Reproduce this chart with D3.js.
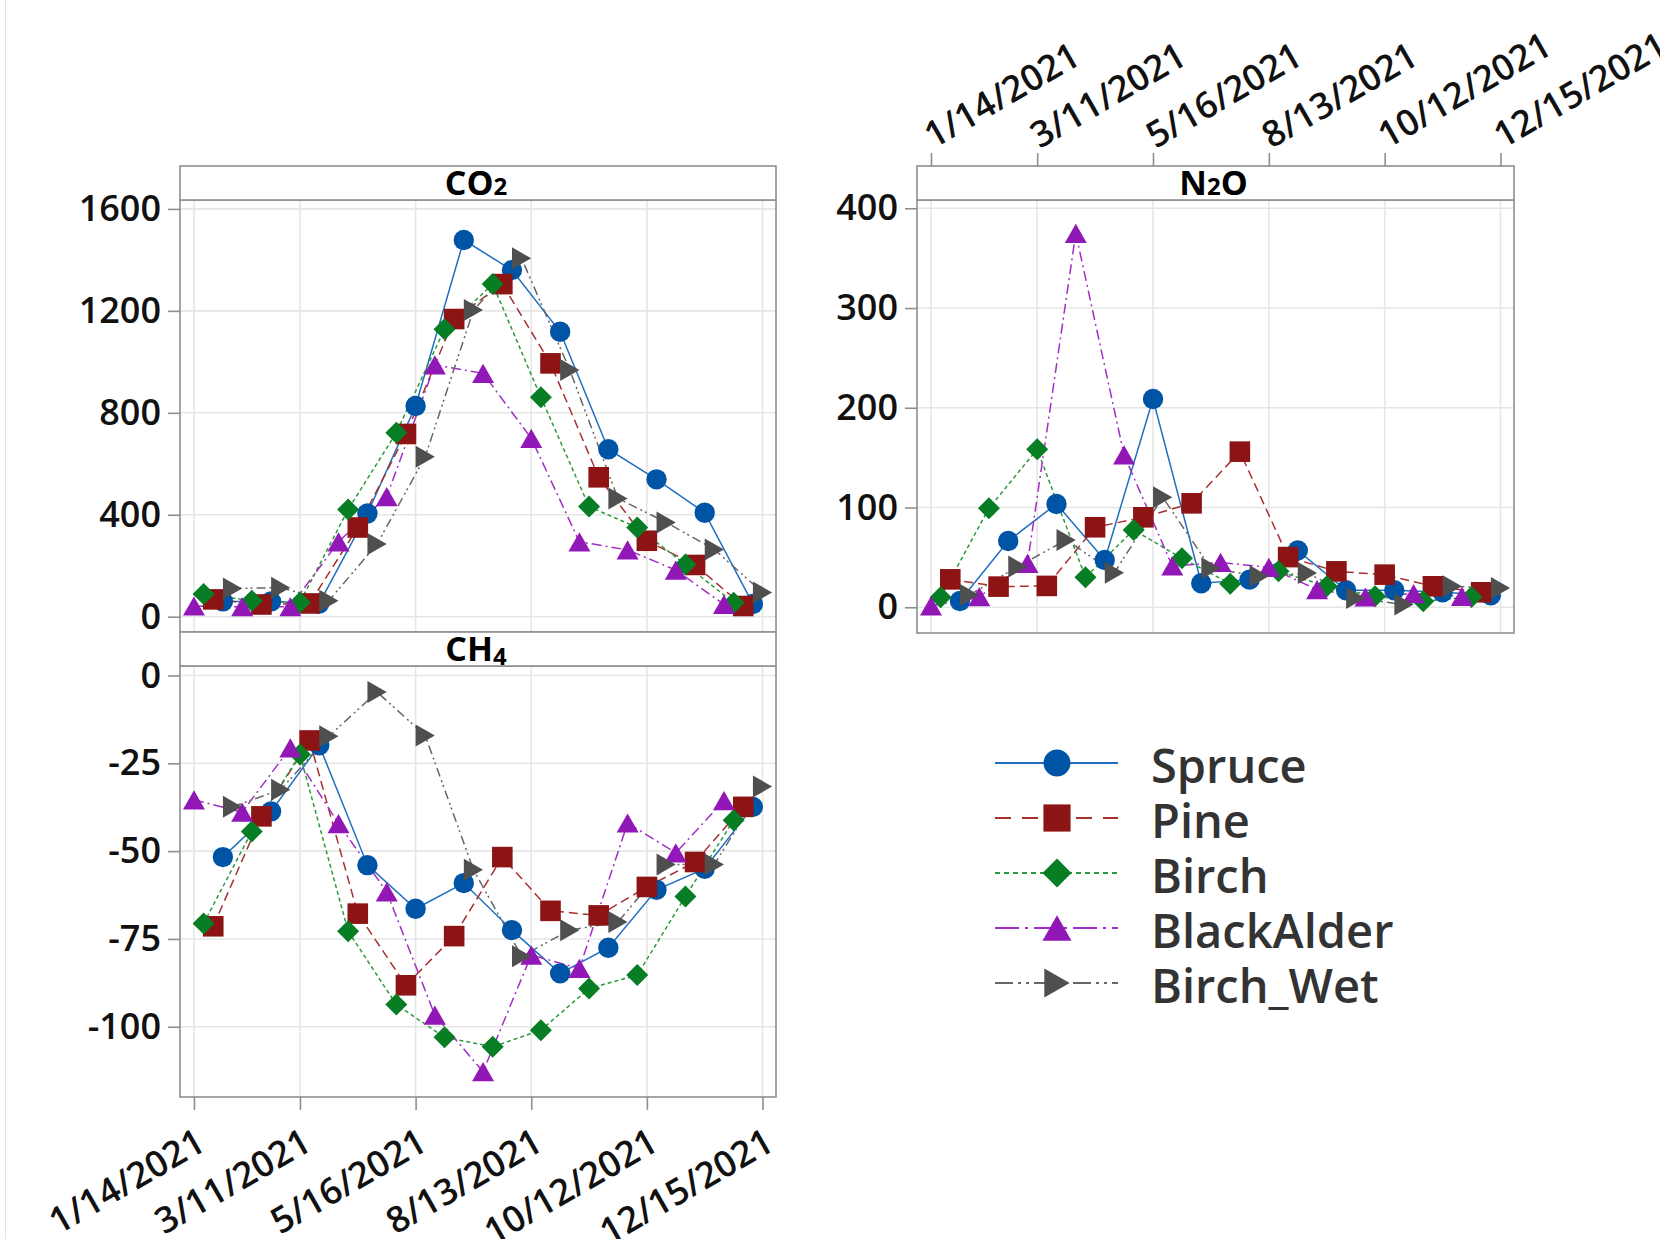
<!DOCTYPE html>
<html>
<head>
<meta charset="utf-8">
<script src="https://cdn.jsdelivr.net/npm/d3@7"></script>
<style>
  body { margin: 0; background: #fff; }
  svg { display: block; }
</style>
</head>
<body>
<div id="chart"></div>
<script>
// ---------------- data ----------------
const speciesNames = ['Spruce', 'Pine', 'Birch', 'BlackAlder', 'Birch_Wet'];
// left-to-right order of the species inside one sampling round
const dodgeOrder = ['BlackAlder', 'Birch', 'Pine', 'Spruce', 'Birch_Wet'];

// tick positions are sample slots on the (discrete) date axis
const dateTickSlots = [0, 11, 23, 35, 47, 59];
const dateTickLabels = ['1/14/2021', '3/11/2021', '5/16/2021', '8/13/2021', '10/12/2021', '12/15/2021'];

const co2Ticks = [0, 400, 800, 1200, 1600];
const ch4Ticks = [0, -25, -50, -75, -100];
const n2oTicks = [0, 100, 200, 300, 400];

// CO2 per sampling round
const co2Spruce     = [60, 60, 52, 405, 827, 1478, 1360, 1118, 657, 539, 408, 50];
const co2Pine       = [68, 48, 52, 350, 717, 1168, 1305, 994, 547, 298, 203, 42];
const co2Birch      = [89, 63, 56, 421, 722, 1128, 1305, 861, 432, 350, 205, 55];
const co2BlackAlder = [42, 39, 39, 294, 471, 988, 955, 700, 294, 262, 183, 48];
const co2BirchWet   = [111, 114, 63, 285, 628, 1203, 1406, 968, 464, 370, 264, 95];

// CH4 per sampling round
const ch4Spruce     = [-51.7, -38.7, -19.9, -54.0, -66.4, -59.1, -72.5, -84.8, -77.5, -61.0, -55.0, -37.4];
const ch4Pine       = [-71.4, -40.1, -18.5, -67.8, -88.2, -74.2, -51.7, -67.0, -68.3, -60.2, -53.1, -37.4];
const ch4Birch      = [-70.6, -44.4, -22.5, -72.8, -93.7, -103.0, -105.7, -101.0, -89.1, -85.3, -62.9, -41.2];
const ch4BlackAlder = [-35.4, -38.9, -20.6, -42.2, -61.6, -96.7, -112.8, -79.6, -83.4, -42.0, -50.5, -35.6];
const ch4BirchWet   = [-37.4, -32.5, -17.3, -4.7, -17.1, -55.3, -79.9, -72.5, -70.2, -53.8, -53.8, -31.6];

// N2O per sampling round
const n2oSpruce     = [6.3, 66.5, 103.6, 47.4, 208.8, 24.1, 27.7, 57, 17, 17, 15, 12];
const n2oPine       = [28, 20.7, 21.4, 80.2, 90.2, 104.2, 156, 50.3, 36, 32.7, 21, 15];
const n2oBirch      = [10, 99.2, 158.4, 30.1, 77.5, 49.1, 23.7, 36, 21, 11, 6, 10.3];
const n2oBlackAlder = [1.3, 10.7, 44.1, 374.9, 152.7, 41.4, 45, 40, 17.7, 10.3, 13.7, 11];
const n2oBirchWet   = [12.4, 40.8, 67.5, 34.7, 110.3, 39, 31, 34.3, 9.3, 2.7, 21, 19.3];

// ---------------- styles ----------------
const FONT = '"Open Sans", "Noto Sans", "DejaVu Sans", sans-serif';
const frameColor = '#8f8f8f';
const gridColor = '#e6e6e6';

const styles = {
    Spruce:     { fill: '#0054a6', line: '#1f6ec2', dash: null,            legDash: null,              shape: 'circle' },
    Pine:       { fill: '#8c1414', line: '#a83030', dash: '9,5',           legDash: '16,11',           shape: 'square' },
    Birch:      { fill: '#077d24', line: '#2a9a3c', dash: '4,3',           legDash: '5,4',             shape: 'diamond' },
    BlackAlder: { fill: '#9117b7', line: '#a32dc4', dash: '10,4,2,4',      legDash: '24,6,3,6',        shape: 'triangle' },
    Birch_Wet:  { fill: '#4f4f4f', line: '#666666', dash: '9,4,2,3,2,4',   legDash: '18,5,3,5,3,5',    shape: 'triangleRight' }
};

// marker outline, k = scale factor
function shapePath(shape, k) {
    const s = k || 1;
    switch (shape) {
        case 'circle': {
            const r = 10.2 * s;
            return `M${-r},0A${r},${r} 0 1,0 ${r},0A${r},${r} 0 1,0 ${-r},0Z`;
        }
        case 'square': {
            const h = 10.3 * s;
            return `M${-h},${-h}H${h}V${h}H${-h}Z`;
        }
        case 'diamond': {
            const h = 11 * s;
            return `M0,${-h}L${h},0L0,${h}L${-h},0Z`;
        }
        case 'triangle': {
            const w = 11 * s, h = 9.6 * s;
            return `M0,${-h}L${w},${h}L${-w},${h}Z`;
        }
        case 'triangleRight': {
            const w = 9.6 * s, h = 11 * s;
            return `M${-w},${-h}L${w},0L${-w},${h}Z`;
        }
    }
}

// ---------------- build tables ----------------
const gasTables = {
    CO2: { Spruce: co2Spruce, Pine: co2Pine, Birch: co2Birch, BlackAlder: co2BlackAlder, Birch_Wet: co2BirchWet },
    CH4: { Spruce: ch4Spruce, Pine: ch4Pine, Birch: ch4Birch, BlackAlder: ch4BlackAlder, Birch_Wet: ch4BirchWet },
    N2O: { Spruce: n2oSpruce, Pine: n2oPine, Birch: n2oBirch, BlackAlder: n2oBlackAlder, Birch_Wet: n2oBirchWet }
};

function seriesFor(gas, name) {
    const d = dodgeOrder.indexOf(name);
    return gasTables[gas][name].map((v, i) => ({ slot: i * dodgeOrder.length + d, value: v }));
}

// ---------------- layout ----------------
const W = 1660, H = 1239;
const tickFont = 36;

const panels = [
    { gas: 'CO2', label: ['CO', '2', ''], sub: 0, x0: 180, x1: 776, stripTop: 166, top: 200, bottom: 632,
      yDomain: [-60, 1635], yTicks: co2Ticks, xAxis: null },
    { gas: 'CH4', label: ['CH', '4', ''], sub: 4, x0: 180, x1: 776, stripTop: 632, top: 666, bottom: 1097,
      yDomain: [-120, 2.7], yTicks: ch4Ticks, xAxis: 'bottom' },
    { gas: 'N2O', label: ['N', '2', 'O'], sub: 0, x0: 917, x1: 1514, stripTop: 166, top: 200, bottom: 633,
      yDomain: [-25.8, 408.3], yTicks: n2oTicks, xAxis: 'top' }
];

const svg = d3.select('#chart')
    .append('svg')
    .attr('width', W)
    .attr('height', H)
    .style('font-family', FONT);

svg.append('rect').attr('width', W).attr('height', H).attr('fill', '#fff');

// faint window edge on the left
svg.append('line')
    .attr('x1', 5.5).attr('x2', 5.5).attr('y1', 0).attr('y2', H)
    .attr('stroke', '#e4e4e4').attr('stroke-width', 1);

panels.forEach(p => {
    const x = d3.scaleLinear().domain([-1.45, 60.4]).range([p.x0, p.x1]);
    const y = d3.scaleLinear().domain(p.yDomain).range([p.bottom, p.top]);

    const g = svg.append('g').attr('class', 'panel ' + p.gas);

    // grid
    g.append('g').selectAll('line')
        .data(p.yTicks)
        .join('line')
        .attr('x1', p.x0).attr('x2', p.x1)
        .attr('y1', d => y(d)).attr('y2', d => y(d))
        .attr('stroke', gridColor).attr('stroke-width', 1.6);

    g.append('g').selectAll('line')
        .data(dateTickSlots)
        .join('line')
        .attr('x1', d => x(d)).attr('x2', d => x(d))
        .attr('y1', p.top).attr('y2', p.bottom)
        .attr('stroke', gridColor).attr('stroke-width', 1.6);

    // series lines first, markers on top
    speciesNames.forEach(name => {
        const st = styles[name];
        const line = d3.line().x(d => x(d.slot)).y(d => y(d.value));
        g.append('path')
            .datum(seriesFor(p.gas, name))
            .attr('d', line)
            .attr('fill', 'none')
            .attr('stroke', st.line)
            .attr('stroke-width', 1.5)
            .attr('stroke-dasharray', st.dash);
    });
    speciesNames.forEach(name => {
        const st = styles[name];
        g.append('g').selectAll('path')
            .data(seriesFor(p.gas, name))
            .join('path')
            .attr('transform', d => `translate(${x(d.slot)},${y(d.value)})`)
            .attr('d', shapePath(st.shape, 1))
            .attr('fill', st.fill);
    });

    // frame
    g.append('rect')
        .attr('x', p.x0).attr('y', p.top)
        .attr('width', p.x1 - p.x0).attr('height', p.bottom - p.top)
        .attr('fill', 'none').attr('stroke', frameColor).attr('stroke-width', 1.6);

    // strip
    g.append('rect')
        .attr('x', p.x0).attr('y', p.stripTop)
        .attr('width', p.x1 - p.x0).attr('height', p.top - p.stripTop)
        .attr('fill', '#fff').attr('stroke', frameColor).attr('stroke-width', 1.6);

    const label = g.append('text')
        .attr('x', (p.x0 + p.x1) / 2 - 2)
        .attr('y', p.stripTop + 29)
        .attr('text-anchor', 'middle')
        .attr('font-size', 34)
        .attr('font-weight', 700)
        .attr('fill', '#000');
    label.append('tspan').text(p.label[0]);
    label.append('tspan').attr('font-size', 24).attr('dy', p.sub).text(p.label[1]);
    if (p.label[2]) label.append('tspan').attr('dy', -p.sub).text(p.label[2]);

    // y axis
    const yAxis = g.append('g')
        .attr('transform', `translate(${p.x0},0)`)
        .call(d3.axisLeft(y).tickValues(p.yTicks).tickSize(12).tickPadding(7).tickFormat(d => String(d)));
    yAxis.select('.domain').remove();
    yAxis.selectAll('.tick line').attr('stroke', frameColor).attr('stroke-width', 1.6);
    yAxis.selectAll('.tick text')
        .attr('font-family', FONT)
        .attr('font-size', tickFont)
        .attr('font-weight', 600)
        .attr('fill', '#111');

    // x axis (rotated date labels)
    if (p.xAxis) {
        const isBottom = p.xAxis === 'bottom';
        const axis = (isBottom ? d3.axisBottom(x) : d3.axisTop(x))
            .tickValues(dateTickSlots).tickSize(13).tickFormat((d, i) => dateTickLabels[i]);
        const xAxis = g.append('g')
            .attr('transform', `translate(0,${isBottom ? p.bottom : p.stripTop})`)
            .call(axis);
        xAxis.select('.domain').remove();
        xAxis.selectAll('.tick line').attr('stroke', frameColor).attr('stroke-width', 1.6);
        xAxis.selectAll('.tick text')
            .attr('font-family', FONT)
            .attr('font-size', tickFont)
            .attr('font-weight', 600)
            .attr('fill', '#111')
            .attr('y', 0).attr('dy', 0)
            .attr('text-anchor', isBottom ? 'end' : 'start')
            .attr('transform', isBottom ? 'translate(13,52) rotate(-30)' : 'translate(2,-17) rotate(-30)');
    }
});

// ---------------- legend ----------------
const legend = svg.append('g').attr('class', 'legend');
const legendY = d3.scalePoint().domain(speciesNames).range([763, 983]);

speciesNames.forEach(name => {
    const st = styles[name];
    const ly = legendY(name);
    legend.append('line')
        .attr('x1', 995).attr('x2', 1118)
        .attr('y1', ly).attr('y2', ly)
        .attr('stroke', st.line)
        .attr('stroke-width', 2)
        .attr('stroke-dasharray', st.legDash);
    legend.append('path')
        .attr('transform', `translate(1057,${ly})`)
        .attr('d', shapePath(st.shape, 1.32))
        .attr('fill', st.fill);
    legend.append('text')
        .attr('x', 1151)
        .attr('y', ly + 20)
        .attr('font-size', 47)
        .attr('font-weight', 600)
        .attr('fill', '#333')
        .text(name);
});
</script>
</body>
</html>
